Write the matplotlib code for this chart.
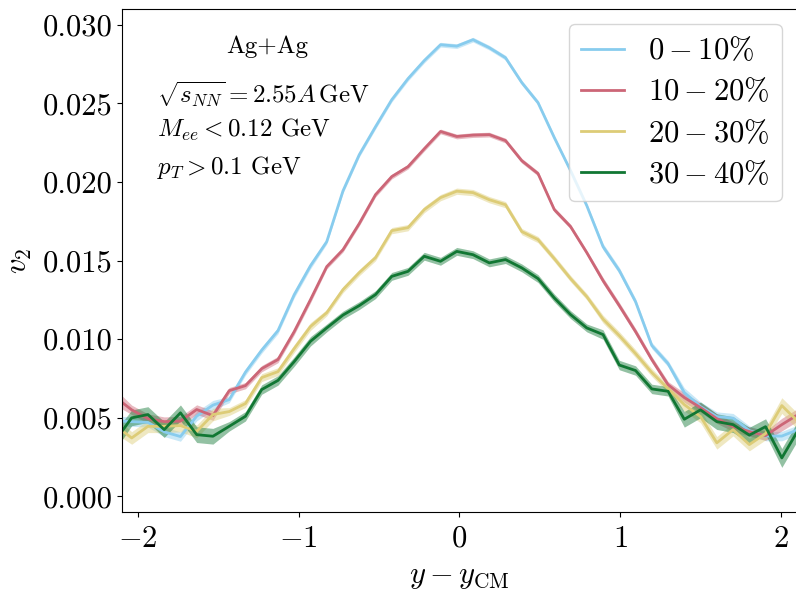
import matplotlib
matplotlib.use("Agg")
import matplotlib.pyplot as plt
import numpy as np

# bin centres in y - y_CM
rapidity = np.linspace(-2.141, 2.108, 43)

v2_0_10 = [0.0048, 0.00475, 0.0047, 0.0041, 0.0038, 0.0051, 0.0058, 0.00615, 0.0079, 0.0093,
           0.01054, 0.01283, 0.01467, 0.0162, 0.01943, 0.02173, 0.02351, 0.02523, 0.02657, 0.02772,
           0.02873, 0.02864, 0.02905, 0.02854, 0.0279, 0.02632, 0.02504, 0.02282, 0.02072, 0.01849,
           0.01588, 0.01436, 0.01238, 0.00959, 0.00844, 0.0066, 0.0057, 0.00507, 0.00497, 0.00418,
           0.00383, 0.00383, 0.00424]
v2_10_20 = [0.0063, 0.0055, 0.00494, 0.00475, 0.00478, 0.00552, 0.00513, 0.00672, 0.00704, 0.00812,
            0.0087, 0.01048, 0.01251, 0.01461, 0.01569, 0.01735, 0.01919, 0.02034, 0.02097, 0.02211,
            0.02321, 0.02289, 0.02298, 0.02301, 0.02263, 0.02135, 0.02053, 0.01824, 0.01716, 0.0155,
            0.01372, 0.01213, 0.01048, 0.0087, 0.0071, 0.00628, 0.00564, 0.00494, 0.00443, 0.00412,
            0.00386, 0.00456, 0.0052]
v2_20_30 = [0.0045, 0.00371, 0.00445, 0.00445, 0.0045, 0.00413, 0.0052, 0.00539, 0.0059, 0.00755,
            0.00793, 0.0094, 0.0108, 0.01168, 0.01315, 0.01423, 0.01518, 0.0169, 0.01709, 0.01824,
            0.019, 0.01941, 0.01932, 0.01887, 0.01855, 0.01684, 0.01633, 0.01512, 0.01385, 0.0127,
            0.01127, 0.01022, 0.00908, 0.00787, 0.00685, 0.00583, 0.00507, 0.0034, 0.00424, 0.00329,
            0.00399, 0.00577, 0.00475]
v2_30_40 = [0.00356, 0.00499, 0.0052, 0.00424, 0.00531, 0.00392, 0.00382, 0.00445, 0.00509, 0.00679,
            0.00737, 0.00857, 0.00986, 0.01071, 0.01153, 0.01213, 0.01283, 0.01399, 0.01431, 0.01527,
            0.01495, 0.01558, 0.01537, 0.01485, 0.01506, 0.01453, 0.01385, 0.01262, 0.01156, 0.01071,
            0.01029, 0.00835, 0.0080, 0.00683, 0.00668, 0.0049, 0.0055, 0.00475, 0.00456, 0.00389,
            0.00443, 0.00244, 0.0042]

# half widths of the shaded bands
err_0_10 = [0.0003] * 7 + [0.0002] * 6 + [0.00015] * 17 + [0.0002] * 5 + [0.0003] * 8
err_10_20 = [0.0005] + [0.0003] * 6 + [0.0002] * 6 + [0.00015] * 17 + [0.0002] * 5 + [0.0003] * 6 + [0.0004] * 2
err_20_30 = [0.0005] + [0.0004] * 6 + [0.00025] * 6 + [0.0002] * 17 + [0.00025] * 5 + [0.0004] * 6 + [0.0005] * 2
err_30_40 = [0.0006] + [0.0005] * 6 + [0.0003] * 6 + [0.00025] * 17 + [0.0003] * 5 + [0.0005] * 6 + [0.0006] * 2

labels = [r"$0-10\%$", r"$10-20\%$", r"$20-30\%$", r"$30-40\%$"]
colors = ["#88CCEE", "#CC6677", "#DDCC77", "#117733"]

plt.rcParams.update({
    "font.family": "serif",
    "font.serif": ["cmr10"],
    "mathtext.fontset": "cm",
    "axes.formatter.use_mathtext": True,
    "font.size": 22,
})

fig = plt.figure(figsize=(7.96, 5.9), dpi=100)
ax = fig.add_axes([0.1533, 0.1322, 0.8477, 0.8525])

series = [v2_0_10, v2_10_20, v2_20_30, v2_30_40]
errors = [err_0_10, err_10_20, err_20_30, err_30_40]
for vals, err, lab, col in zip(series, errors, labels, colors):
    vals = np.array(vals)
    err = np.array(err)
    ax.fill_between(rapidity, vals - err, vals + err, color=col, alpha=0.45, lw=0)
    ax.plot(rapidity, vals, color=col, lw=2.0, label=lab)

ax.set_xlim(-2.1, 2.1)
ax.set_ylim(-0.001, 0.031)
ax.set_xticks([-2, -1, 0, 1, 2])
ax.set_yticks([0.0, 0.005, 0.010, 0.015, 0.020, 0.025, 0.030])
ax.set_yticklabels(["0.000", "0.005", "0.010", "0.015", "0.020", "0.025", "0.030"])
ax.tick_params(axis="x", pad=6)
ax.set_xlabel(r"$y - y_{\mathrm{CM}}$", labelpad=8)
ax.set_ylabel(r"$v_2$", labelpad=6)

ax.text(0.215, 0.925, "Ag+Ag", transform=ax.transAxes, ha="center", va="center", fontsize=18)
ax.text(0.052, 0.829, r"$\sqrt{s_{NN}}=2.55A\,\mathrm{GeV}$", transform=ax.transAxes,
        ha="left", va="center", fontsize=18)
ax.text(0.052, 0.759, r"$M_{ee}<0.12$ GeV", transform=ax.transAxes, ha="left", va="center", fontsize=18)
ax.text(0.052, 0.684, r"$p_T>0.1$ GeV", transform=ax.transAxes, ha="left", va="center", fontsize=18)

ax.legend(loc="upper right", fontsize=22, handlelength=1.4, labelspacing=0.4)

fig.savefig("out.png", dpi=100)
